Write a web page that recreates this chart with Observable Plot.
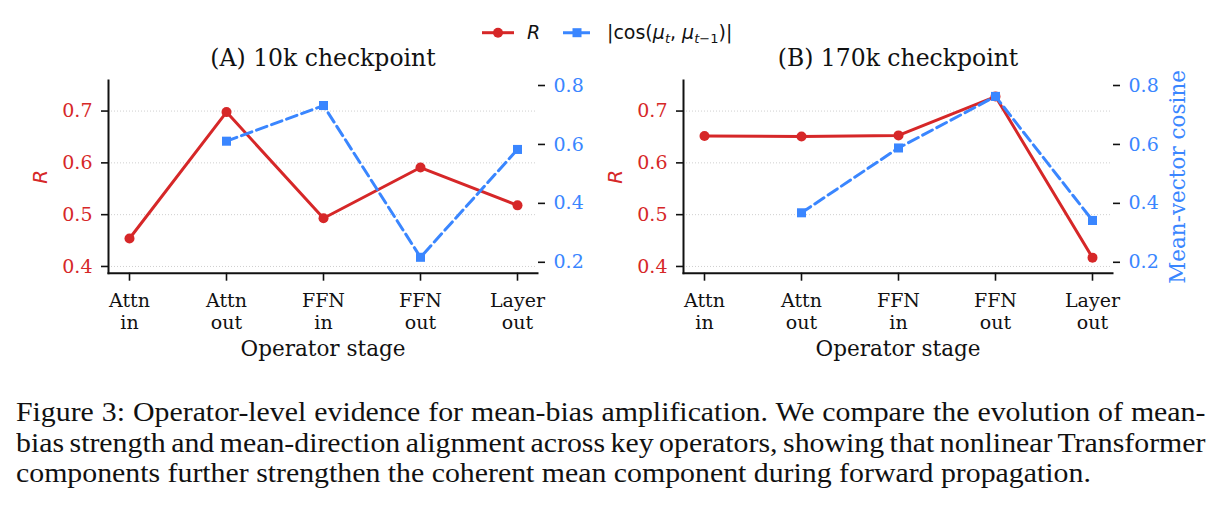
<!DOCTYPE html>
<html>
<head>
<meta charset="utf-8">
<script src="https://cdn.jsdelivr.net/npm/d3@7"></script>
<script src="https://cdn.jsdelivr.net/npm/@observablehq/plot@0.6"></script>
<style>
  body { margin: 0; background: #fff; }
  #fig { position: relative; width: 1223px; height: 509px; overflow: hidden; background: #fff; }
  .layer { position: absolute; top: 0; }
  .legend-text { position: absolute; font-family: "DejaVu Sans", sans-serif; font-size: 19px; color: #111; white-space: nowrap; line-height: 1; }
  .legend-text sub { font-size: 13px; vertical-align: -4px; line-height: 0; }
  #caption {
    position: absolute; left: 16px; top: 397px; width: 1117px;
    transform: scaleX(1.065); transform-origin: 0 0;
    font-family: "Liberation Serif", "Times New Roman", serif; font-size: 28px; line-height: 30.5px;
    color: #111;
  }
  #caption div { white-space: nowrap; }
  #caption span { display: inline-block; white-space: nowrap; }
</style>
</head>
<body>
<div id="fig">
  <div id="legend"></div>
  <div id="caption"></div>
</div>
<script>
// Operator stages along the x axis
const stages = ["Attn in", "Attn out", "FFN in", "FFN out", "Layer out"];
const stageLabels = ["Attn\nin", "Attn\nout", "FFN\nin", "FFN\nout", "Layer\nout"];

// (A) 10k checkpoint
const rA   = [0.454, 0.698, 0.493, 0.591, 0.518];
const cosA = [null, 0.611, 0.732, 0.217, 0.583];

// (B) 170k checkpoint
const rB   = [0.652, 0.651, 0.653, 0.728, 0.417];
const cosB = [null, 0.368, 0.588, 0.763, 0.342];

const panelTitles = ["(A) 10k checkpoint", "(B) 170k checkpoint"];
const rTicks = [0.4, 0.5, 0.6, 0.7];
const cosTicks = [0.2, 0.4, 0.6, 0.8];
const xLabel = "Operator stage";
const rLabel = "R";
const cosLabel = "Mean-vector cosine";
const captionLines = [
  "Figure 3: Operator-level evidence for mean-bias amplification. We compare the evolution of mean-",
  "bias strength and mean-direction alignment across key operators, showing that nonlinear Transformer",
  "components further strengthen the coherent mean component during forward propagation."
];

const RED = "#d62728";
const BLUE = "#3a86ff";
const SERIF = "DejaVu Serif";

const H = 370;
const M = {top: 80, left: 108, bottom: H - 272.7};
const plotRight = 537; // right edge of the axes area within each panel svg

function panel({offset, width, r, cos, title, rightLabel}) {
  const rows = stages.map((s, i) => ({stage: s, r: r[i], cos: cos[i]}));
  const common = {
    width, height: H,
    marginTop: M.top, marginLeft: M.left, marginBottom: M.bottom, marginRight: width - plotRight,
    style: {fontFamily: SERIF, fontSize: "19px", background: "transparent", overflow: "visible"}
  };

  // Primary axes: R on the left
  const base = Plot.plot({
    ...common,
    x: {type: "point", domain: stages, padding: 0.2},
    y: {domain: [0.387, 0.759]},
    marks: [
      Plot.gridY(rTicks, {stroke: "#cfcfcf", strokeOpacity: 1, strokeWidth: 1, strokeDasharray: "1,2"}),
      Plot.axisY(rTicks, {anchor: "left", tickSize: 7, tickPadding: 9, stroke: "#111", strokeWidth: 1.6,
        fill: RED, fontSize: 19, tickFormat: d => d.toFixed(1), label: null}),
      Plot.axisX(stages, {anchor: "bottom", tickSize: 8, tickPadding: 11, stroke: "#111", strokeWidth: 1.6,
        fill: "#111", fontSize: 19, lineHeight: 1.12, tickFormat: d => stageLabels[stages.indexOf(d)], label: null}),
      Plot.frame({anchor: "left", stroke: "#111", strokeWidth: 2}),
      Plot.frame({anchor: "bottom", stroke: "#111", strokeWidth: 2}),
      Plot.line(rows, {x: "stage", y: "r", stroke: RED, strokeWidth: 3}),
      Plot.dot(rows, {x: "stage", y: "r", fill: RED, r: 5}),
      Plot.text([title], {frameAnchor: "top", dy: -22, textAnchor: "middle", lineAnchor: "middle", fontSize: 23.5, fill: "#111"}),
      Plot.text([xLabel], {frameAnchor: "bottom", dy: 76, textAnchor: "middle", lineAnchor: "middle", fontSize: 21.5, fill: "#111"}),
      Plot.text([rLabel], {frameAnchor: "left", dx: -68, rotate: -90, textAnchor: "middle", lineAnchor: "middle",
        fontSize: 20, fontFamily: "DejaVu Sans", fontStyle: "italic", fill: RED})
    ]
  });

  // Twin axes: mean-vector cosine on the right, sharing the x positions
  const twin = Plot.plot({
    ...common,
    x: {type: "point", domain: stages, padding: 0.2, axis: null},
    y: {domain: [0.163, 0.817], axis: null},
    marks: [
      Plot.axisY(cosTicks, {anchor: "right", tickSize: 7, tickPadding: 9, stroke: "#111", strokeWidth: 1.6,
        fill: BLUE, fontSize: 19, tickFormat: d => d.toFixed(1), label: null}),
      Plot.line(rows, {x: "stage", y: "cos", stroke: BLUE, strokeWidth: 3, strokeDasharray: "11,5"}),
      Plot.dot(rows.filter(d => d.cos != null), {x: "stage", y: "cos", fill: BLUE, symbol: "square", r: 5.1}),
      rightLabel ? Plot.text([rightLabel], {frameAnchor: "right", dx: 66, rotate: -90, textAnchor: "middle", lineAnchor: "middle",
        fontSize: 21.5, fill: BLUE}) : null
    ]
  });

  for (const svg of [base, twin]) {
    svg.classList.add("layer");
    svg.style.left = offset + "px";
    document.getElementById("fig").appendChild(svg);
  }
}

panel({offset: 0, width: 600, r: rA, cos: cosA, title: panelTitles[0], rightLabel: null});
panel({offset: 575, width: 648, r: rB, cos: cosB, title: panelTitles[1], rightLabel: cosLabel});

// Legend above both panels
const legend = document.getElementById("legend");
const ns = "http://www.w3.org/2000/svg";
const sw = document.createElementNS(ns, "svg");
sw.setAttribute("width", 1223); sw.setAttribute("height", 60);
sw.style.position = "absolute"; sw.style.left = "0px"; sw.style.top = "0px";
sw.innerHTML = `
  <line x1="482" x2="514" y1="32.7" y2="32.7" stroke="${RED}" stroke-width="3"/>
  <circle cx="498" cy="32.7" r="5" fill="${RED}"/>
  <line x1="563" x2="592" y1="32.7" y2="32.7" stroke="${BLUE}" stroke-width="3" stroke-dasharray="11,5"/>
  <rect x="572.5" y="28.2" width="9" height="9" fill="${BLUE}"/>`;
legend.appendChild(sw);
const t1 = document.createElement("div");
t1.className = "legend-text";
t1.style.left = "527px"; t1.style.top = "23px";
t1.innerHTML = "<i>R</i>";
legend.appendChild(t1);
const t2 = document.createElement("div");
t2.className = "legend-text";
t2.style.left = "607px"; t2.style.top = "23px";
t2.innerHTML = "|cos(<i>μ</i><sub><i>t</i></sub>, <i>μ</i><sub><i>t</i>−1</sub>)|";
legend.appendChild(t2);

// Figure caption: every line but the last is spread to the full measure
const cap = document.getElementById("caption");
const measure = cap.clientWidth;
captionLines.forEach((line, i) => {
  const div = document.createElement("div");
  const span = document.createElement("span");
  span.textContent = line;
  div.appendChild(span);
  cap.appendChild(div);
  if (i < captionLines.length - 1) {
    const gaps = (line.match(/ /g) || []).length;
    const natural = span.offsetWidth;
    span.style.wordSpacing = ((measure - natural) / gaps) + "px";
  }
});
</script>
</body>
</html>
